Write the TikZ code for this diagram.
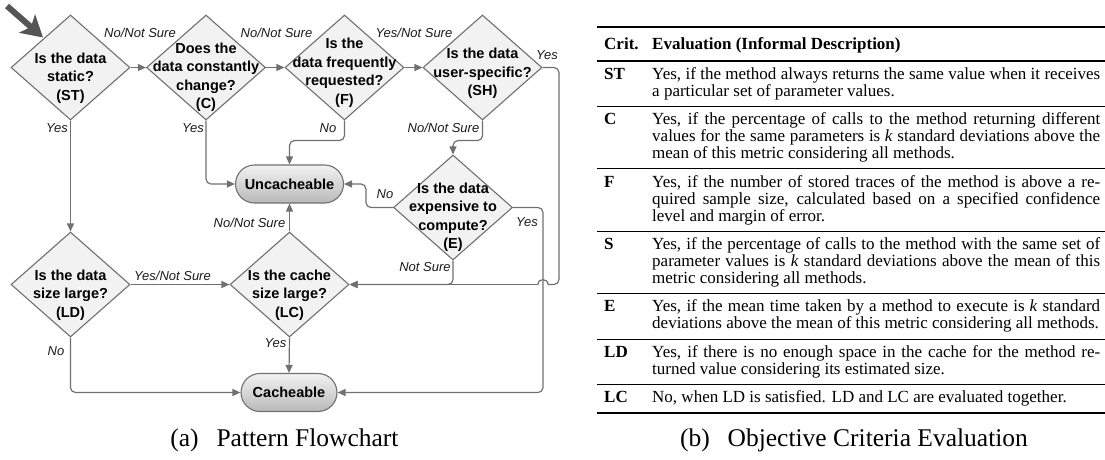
\documentclass[tikz,border=0pt]{standalone}
\usepackage{fontspec}
\setmainfont{Liberation Serif}
\newfontfamily\lsans{Liberation Sans}
\usetikzlibrary{shapes.geometric,arrows.meta,calc}
\definecolor{lcol}{HTML}{707070}
\definecolor{dfill}{HTML}{F2F2F2}
\definecolor{tcol}{HTML}{1A1A1A}
\definecolor{bigarrow}{HTML}{555555}
\begin{document}
\begin{tikzpicture}[x=1pt,y=-1pt,
  dia/.style={shape=diamond, draw=lcol, fill=dfill, line width=1.1pt, minimum width=119pt, minimum height=105pt, inner sep=0pt},
  dtext/.style={font=\lsans\bfseries\fontsize{14.5}{18.5}\selectfont, align=center, inner sep=0pt, text=black},
  term/.style={draw=lcol, line width=1.1pt, rounded corners=19pt, minimum height=38pt, inner sep=0pt, top color=gray!10, bottom color=gray!55, font=\lsans\bfseries\fontsize{14.5}{17}\selectfont},
  conn/.style={draw=lcol, line width=1.2pt, rounded corners=5pt, -{Triangle[length=8pt,width=7pt]}},
  plainline/.style={draw=lcol, line width=1.2pt, rounded corners=5pt},
  lab/.style={font=\lsans\itshape\fontsize{13}{15}\selectfont, inner sep=0pt, text=tcol},
  tline/.style={font=\fontsize{17}{17}\selectfont, inner sep=0pt, anchor=base west},
  tcrit/.style={font=\bfseries\fontsize{17}{17}\selectfont, inner sep=0pt, anchor=base west},
  caption/.style={font=\fontsize{25.5}{27}\selectfont, inner sep=0pt, anchor=base}]
\useasboundingbox (0,0) rectangle (1105,459);

% ---------- flowchart ----------
\node[dia] (st) at (70.5,67.5) {};
\node[dia] (c) at (206,67.5) {};
\node[dia] (f) at (344.5,67.5) {};
\node[dia] (sh) at (482.5,67.5) {};
\node[dia] (e) at (453,207.5) {};
\node[dia] (ld) at (70.5,284.5) {};
\node[dia] (lc) at (289.5,284.5) {};
\node[term, minimum width=108pt] (unc) at (289.5,184) {Uncacheable};
\node[term, minimum width=96pt] (cach) at (289,392.5) {Cacheable};

\node[dtext] (stt) at (70.5,78) {Is the data\\static?\\(ST)};
\node[dtext] (ct) at (206,77) {Does the\\data constantly\\change?\\(C)};
\node[dtext] (ft) at (344.5,72.5) {Is the\\data frequently\\requested?\\(F)};
\node[dtext] (sht) at (482.5,73.5) {Is the data\\user-specific?\\(SH)};
\node[dtext] (et) at (453,217) {Is the data\\expensive to\\compute?\\(E)};
\node[dtext] (ldt) at (70.5,295) {Is the data\\size large?\\(LD)};
\node[dtext] (lct) at (289.5,295) {Is the cache\\size large?\\(LC)};

% start arrow
\coordinate (s0) at (7,6);
\coordinate (s1) at (43,37.5);
\draw[bigarrow, line width=6pt, -{Stealth[length=21pt,width=24pt,inset=5pt]}] (s0) -- (s1);

% connectors
\draw[conn] (st.east) -- (c.west);
\draw[conn] (c.east) -- (f.west);
\draw[conn] (f.east) -- (sh.west);
\draw[conn] (f.south) -- ++(0,20) -| (unc.north);
\draw[conn] (c.south) |- (unc.west);
\draw[conn] (sh.south) -- ++(0,20) -| (e.north);
\draw[conn] (e.west) -- ++(-27,0) |- (unc.east);
\draw[conn] (e.east) -- ++(30,0) |- (cach.east);
\coordinate (cr) at (559,284.5);
\coordinate (jr) at (548,284.5);
\coordinate (jl) at (538,284.5);
\draw[plainline] (sh.east) -| (cr) -- (jr);
\draw[draw=lcol, line width=1.2pt] (jr) .. controls (548,278) and (538,278) .. (jl);
\draw[conn] (jl) -- (lc.east);
\draw[conn] (e.south) |- (lc.east);
\draw[conn] (lc.north) -- (unc.south);
\draw[conn] (lc.south) -- (cach.north);
\draw[conn] (st.south) -- (ld.north);
\draw[conn] (ld.east) -- (lc.west);
\draw[conn] (ld.south) |- (cach.west);

% labels
\node[lab] (l1) at (140,33) {No/Not Sure};
\node[lab] (l2) at (276.5,33) {No/Not Sure};
\node[lab] (l3) at (414,33) {Yes/Not Sure};
\node[lab] (l4) at (547,55) {Yes};
\node[lab] (l5) at (57,128) {Yes};
\node[lab] (l6) at (193,128) {Yes};
\node[lab] (l7) at (328,128) {No};
\node[lab] (l8) at (443.5,128) {No/Not Sure};
\node[lab] (l9) at (385,194) {No};
\node[lab] (l10) at (527,222) {Yes};
\node[lab] (l11) at (249.5,223) {No/Not Sure};
\node[lab] (l12) at (425,267) {Not Sure};
\node[lab] (l13) at (172.5,276) {Yes/Not Sure};
\node[lab] (l14) at (275.5,343) {Yes};
\node[lab] (l15) at (56,351) {No};

\node[caption] (capa) at (284.5,446) {(a)\hspace{0.7em}Pattern Flowchart};

% ---------- table ----------
\draw[line width=1.9pt] (597,27) -- (1105,27);
\draw[line width=1.1pt] (597,61) -- (1105,61);
\draw[line width=0.9pt] (597,106.4) -- (1105,106.4);
\draw[line width=0.9pt] (597,168.8) -- (1105,168.8);
\draw[line width=0.9pt] (597,231.2) -- (1105,231.2);
\draw[line width=0.9pt] (597,293.6) -- (1105,293.6);
\draw[line width=0.9pt] (597,339) -- (1105,339);
\draw[line width=0.9pt] (597,384.4) -- (1105,384.4);
\draw[line width=1.9pt] (597,412.8) -- (1105,412.8);

\node[tcrit] (hc) at (604,49) {Crit.};
\node[tcrit] (he) at (652,49) {Evaluation (Informal Description)};

\node[tcrit] (kst) at (604,79.2) {ST};
\node[tline] (st1) at (652,79.2) {\makebox[448pt][s]{Yes, if the method always returns the same value when it receives}};
\node[tline] (st2) at (652,96.2) {a particular set of parameter values.};

\node[tcrit] (kc) at (604,124.6) {C};
\node[tline] (c1) at (652,124.6) {\makebox[448pt][s]{Yes, if the percentage of calls to the method returning different}};
\node[tline] (c2) at (652,141.6) {\makebox[448pt][s]{values for the same parameters is \textit{k} standard deviations above the}};
\node[tline] (c3) at (652,158.6) {mean of this metric considering all methods.};

\node[tcrit] (kf) at (604,187) {F};
\node[tline] (f1) at (652,187) {\makebox[448pt][s]{Yes, if the number of stored traces of the method is above a re-}};
\node[tline] (f2) at (652,204) {\makebox[448pt][s]{quired sample size, calculated based on a specified confidence}};
\node[tline] (f3) at (652,221) {level and margin of error.};

\node[tcrit] (ks) at (604,249.4) {S};
\node[tline] (s1r) at (652,249.4) {\makebox[448pt][s]{Yes, if the percentage of calls to the method with the same set of}};
\node[tline] (s2r) at (652,266.4) {\makebox[448pt][s]{parameter values is \textit{k} standard deviations above the mean of this}};
\node[tline] (s3r) at (652,283.4) {metric considering all methods.};

\node[tcrit] (ke) at (604,311.8) {E};
\node[tline] (e1) at (652,311.8) {\makebox[448pt][s]{Yes, if the mean time taken by a method to execute is \textit{k} standard}};
\node[tline] (e2) at (652,328.8) {deviations above the mean of this metric considering all methods.};

\node[tcrit] (kld) at (604,357.2) {LD};
\node[tline] (ld1) at (652,357.2) {\makebox[448pt][s]{Yes, if there is no enough space in the cache for the method re-}};
\node[tline] (ld2) at (652,374.2) {turned value considering its estimated size.};

\node[tcrit] (klc) at (604,402.6) {LC};
\node[tline] (lc1) at (652,402.6) {No, when LD is satisfied. LD and LC are evaluated together.};

\node[caption] (capb) at (854,446) {(b)\hspace{0.7em}Objective Criteria Evaluation};
\end{tikzpicture}
\end{document}
